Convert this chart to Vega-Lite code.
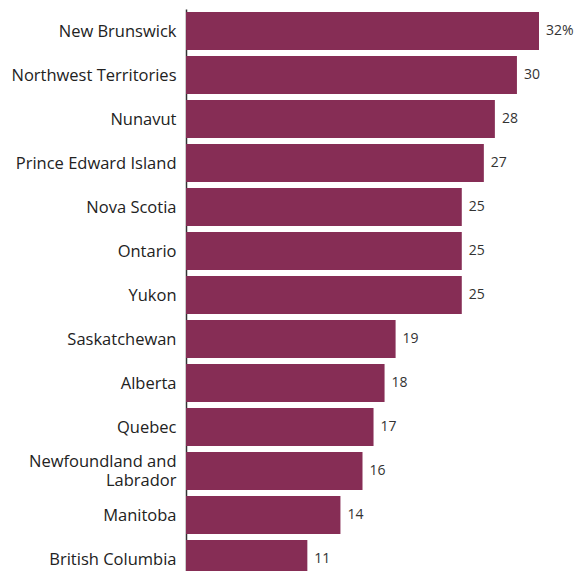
{
  "$schema": "https://vega.github.io/schema/vega-lite/v6.json",
  "width": 353,
  "height": 572,
  "autosize": {"type": "none"},
  "padding": {"left": 186, "top": 9, "right": 38, "bottom": 0},
  "background": "white",
  "config": {"view": {"stroke": null}, "font": "Open Sans"},
  "data": {
    "values": [
      {"region": "New Brunswick", "value": 32, "label": "32%"},
      {"region": "Northwest Territories", "value": 30, "label": "30"},
      {"region": "Nunavut", "value": 28, "label": "28"},
      {"region": "Prince Edward Island", "value": 27, "label": "27"},
      {"region": "Nova Scotia", "value": 25, "label": "25"},
      {"region": "Ontario", "value": 25, "label": "25"},
      {"region": "Yukon", "value": 25, "label": "25"},
      {"region": "Saskatchewan", "value": 19, "label": "19"},
      {"region": "Alberta", "value": 18, "label": "18"},
      {"region": "Quebec", "value": 17, "label": "17"},
      {"region": "Newfoundland and Labrador", "value": 16, "label": "16"},
      {"region": "Manitoba", "value": 14, "label": "14"},
      {"region": "British Columbia", "value": 11, "label": "11"}
    ]
  },
  "encoding": {
    "y": {
      "field": "region",
      "type": "nominal",
      "sort": null,
      "scale": {"paddingInner": 0.136, "paddingOuter": 0.068},
      "axis": {
        "title": null,
        "ticks": false,
        "domain": true,
        "domainColor": "#333",
        "domainWidth": 1.5,
        "labelFontSize": 16.5,
        "labelColor": "#222",
        "labelPadding": 10,
        "labelLimit": 250,
        "labelLineHeight": 19,
        "labelOffset": {"condition": {"test": "datum.value == 'Newfoundland and Labrador'", "value": -9}, "value": 0.5},
        "labelExpr": "datum.value == 'Newfoundland and Labrador' ? ['Newfoundland and', 'Labrador'] : datum.label"
      }
    },
    "x": {
      "field": "value",
      "type": "quantitative",
      "scale": {"domain": [0, 32], "nice": false},
      "axis": null
    }
  },
  "layer": [
    {"mark": {"type": "bar", "color": "#862d55"}},
    {
      "mark": {"type": "text", "align": "left", "baseline": "middle", "dx": 7, "fontSize": 14, "color": "#333"},
      "encoding": {"text": {"field": "label"}}
    }
  ]
}
